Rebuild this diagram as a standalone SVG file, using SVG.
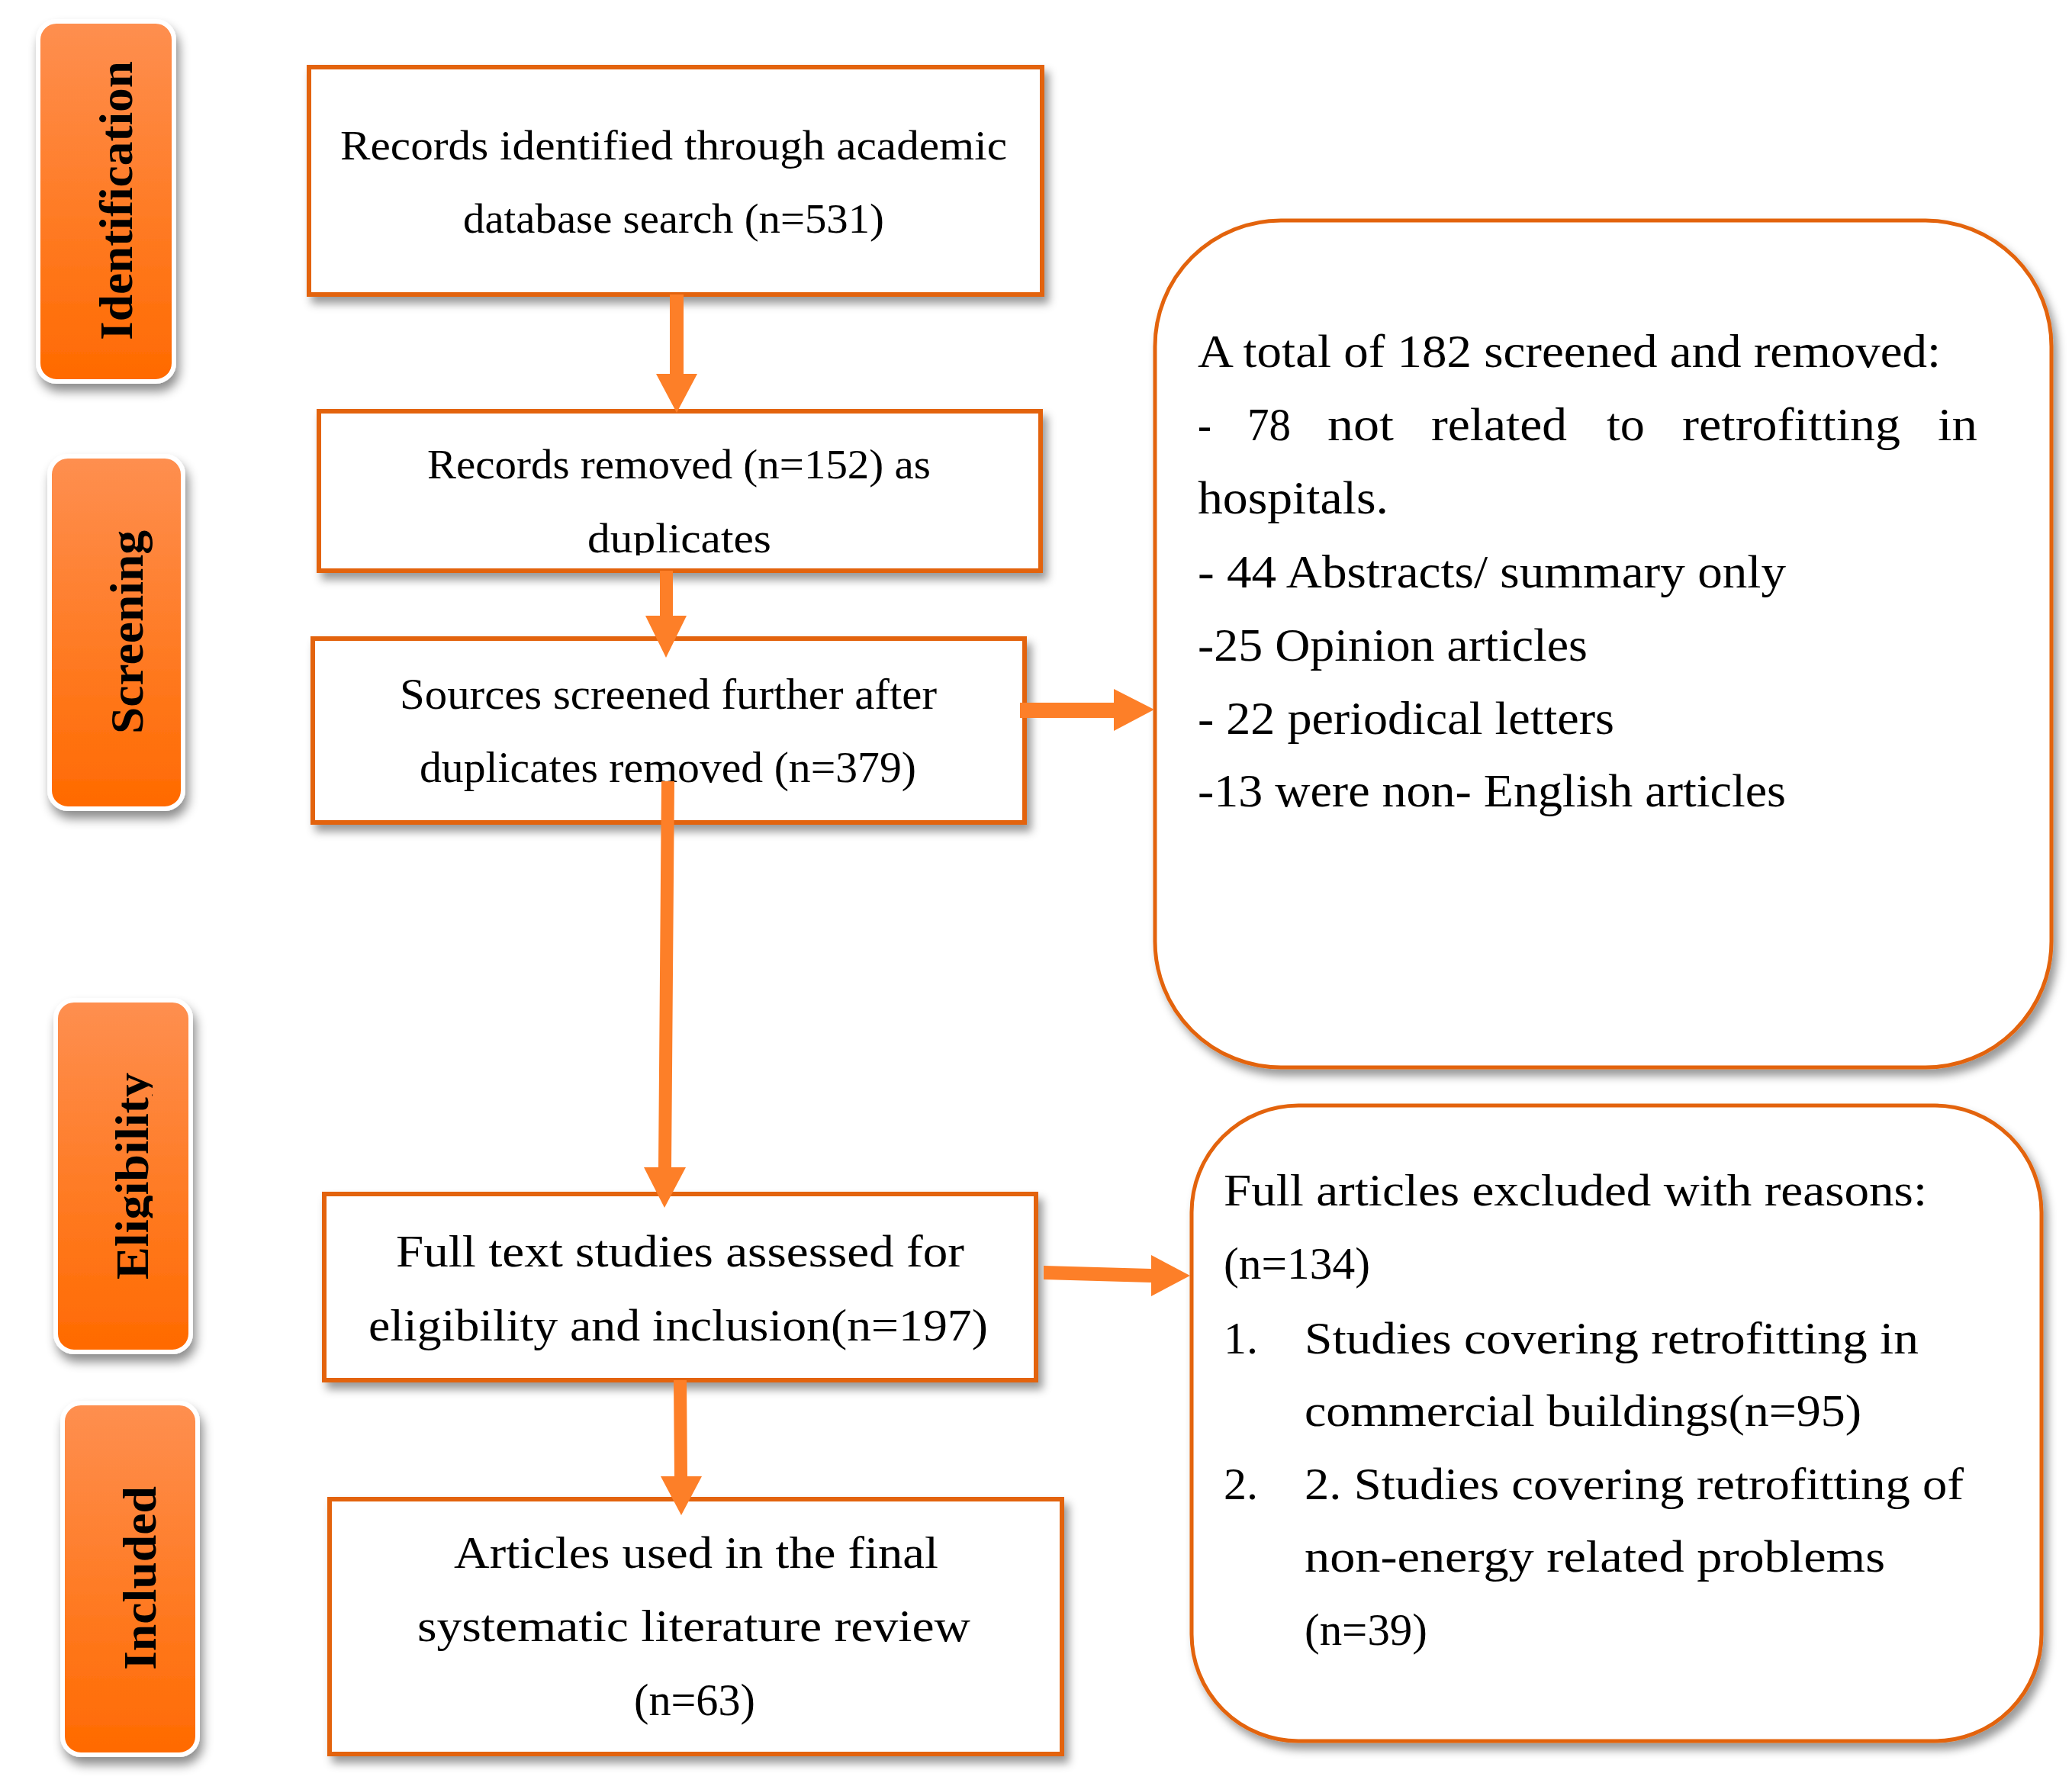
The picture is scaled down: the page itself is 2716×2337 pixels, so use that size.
<svg xmlns="http://www.w3.org/2000/svg" width="2716" height="2337" viewBox="0 0 2716 2337">
<defs>
<linearGradient id="lab" x1="0" y1="0" x2="0" y2="1">
<stop offset="0" stop-color="#FE8F50"/>
<stop offset="1" stop-color="#FF6A00"/>
</linearGradient>
<filter id="sh" x="-10%" y="-10%" width="125%" height="125%">
<feDropShadow dx="6" dy="9" stdDeviation="6" flood-color="#000" flood-opacity="0.4"/>
</filter>
<filter id="shl" x="-20%" y="-10%" width="150%" height="125%">
<feDropShadow dx="4" dy="10" stdDeviation="7" flood-color="#000" flood-opacity="0.45"/>
</filter>
<clipPath id="clipDup"><rect x="420" y="540" width="940" height="188"/></clipPath>
<clipPath id="clipElig"><rect x="-200" y="-80" width="400" height="86"/></clipPath>
</defs>
<style>
.lab{fill:url(#lab);stroke:#fff;stroke-width:6;filter:url(#shl)}
.lt{font-family:"Liberation Serif",serif;font-weight:bold;font-size:62px;fill:#000}
.box{fill:#fff;stroke:#E3640A;stroke-width:6;filter:url(#sh)}
.rbox{fill:#fff;stroke:#E3640A;stroke-width:5;filter:url(#sh)}
.t{font-family:"Liberation Serif",serif;fill:#000}
.s54{font-size:54px}.s56{font-size:56px}.s60{font-size:60px}.s62{font-size:62px}
.arr{fill:#FD7F28;stroke:none}
</style>
<rect width="2716" height="2337" fill="#fff"/>

<g id="label-identification">
<rect class="lab" x="50" y="28" width="178" height="472" rx="24"/>
<g transform="translate(173,263) rotate(-90)"><text class="lt" x="-183" y="0" textLength="366" lengthAdjust="spacingAndGlyphs">Identification</text></g>
</g>
<g id="label-screening">
<rect class="lab" x="65" y="598" width="175" height="462" rx="24"/>
<g transform="translate(187,828) rotate(-90)"><text class="lt" x="-134" y="0" textLength="267" lengthAdjust="spacingAndGlyphs">Screening</text></g>
</g>
<g id="label-eligibility">
<rect class="lab" x="73" y="1311" width="177" height="461" rx="24"/>
<g transform="translate(194,1541) rotate(-90)"><text class="lt" x="-136" y="0" textLength="271" lengthAdjust="spacingAndGlyphs" clip-path="url(#clipElig)">Eligibility</text></g>
</g>
<g id="label-included">
<rect class="lab" x="82" y="1839" width="177" height="461" rx="24"/>
<g transform="translate(204,2069) rotate(-90)"><text class="lt" x="-120" y="0" textLength="241" lengthAdjust="spacingAndGlyphs">Included</text></g>
</g>

<g id="box-identified">
<rect class="box" x="405" y="88" width="961" height="298"/>
<text class="t s54" x="446" y="209" textLength="874" lengthAdjust="spacingAndGlyphs">Records identified through academic</text>
<text class="t s54" x="607" y="305" textLength="552" lengthAdjust="spacingAndGlyphs">database search (n=531)</text>
</g>
<g id="box-removed">
<rect class="box" x="418" y="539" width="946" height="209"/>
<text class="t s54" x="560" y="627" textLength="660" lengthAdjust="spacingAndGlyphs">Records removed (n=152) as</text>
<text class="t s54" x="770" y="724" textLength="241" lengthAdjust="spacingAndGlyphs" clip-path="url(#clipDup)">duplicates</text>
</g>
<g id="box-screened">
<rect class="box" x="410" y="837" width="933" height="241"/>
<text class="t s56" x="524" y="929" textLength="704" lengthAdjust="spacingAndGlyphs">Sources screened further after</text>
<text class="t s56" x="550" y="1025" textLength="651" lengthAdjust="spacingAndGlyphs">duplicates removed (n=379)</text>
</g>
<g id="box-fulltext">
<rect class="box" x="425" y="1565" width="933" height="244"/>
<text class="t s60" x="519" y="1660" textLength="745" lengthAdjust="spacingAndGlyphs">Full text studies assessed for</text>
<text class="t s60" x="483" y="1757" textLength="812" lengthAdjust="spacingAndGlyphs">eligibility and inclusion(n=197)</text>
</g>
<g id="box-included">
<rect class="box" x="432" y="1965" width="960" height="334"/>
<text class="t s60" x="595" y="2055" textLength="635" lengthAdjust="spacingAndGlyphs">Articles used in the final</text>
<text class="t s60" x="547" y="2151" textLength="725" lengthAdjust="spacingAndGlyphs">systematic literature review</text>
<text class="t s60" x="831" y="2248" textLength="159" lengthAdjust="spacingAndGlyphs">(n=63)</text>
</g>

<g id="box-removed-182">
<rect class="rbox" x="1514" y="289" width="1175" height="1110" rx="165"/>
<text class="t s62" x="1570" y="481" textLength="974" lengthAdjust="spacingAndGlyphs">A total of 182 screened and removed:</text>
<text class="t s62" x="1570" y="577" textLength="18" lengthAdjust="spacingAndGlyphs">-</text>
<text class="t s62" x="1635" y="577" textLength="57" lengthAdjust="spacingAndGlyphs">78</text>
<text class="t s62" x="1740" y="577" textLength="87" lengthAdjust="spacingAndGlyphs">not</text>
<text class="t s62" x="1876" y="577" textLength="178" lengthAdjust="spacingAndGlyphs">related</text>
<text class="t s62" x="2106" y="577" textLength="50" lengthAdjust="spacingAndGlyphs">to</text>
<text class="t s62" x="2205" y="577" textLength="286" lengthAdjust="spacingAndGlyphs">retrofitting</text>
<text class="t s62" x="2540" y="577" textLength="52" lengthAdjust="spacingAndGlyphs">in</text>
<text class="t s62" x="1570" y="673" textLength="250" lengthAdjust="spacingAndGlyphs">hospitals.</text>
<text class="t s62" x="1570" y="770" textLength="771" lengthAdjust="spacingAndGlyphs">- 44 Abstracts/ summary only</text>
<text class="t s62" x="1570" y="866" textLength="511" lengthAdjust="spacingAndGlyphs">-25 Opinion articles</text>
<text class="t s62" x="1570" y="962" textLength="546" lengthAdjust="spacingAndGlyphs">- 22 periodical letters</text>
<text class="t s62" x="1570" y="1057" textLength="771" lengthAdjust="spacingAndGlyphs">-13 were non- English articles</text>
</g>
<g id="box-excluded-134">
<rect class="rbox" x="1562" y="1449" width="1114" height="833" rx="140"/>
<text class="t s60" x="1604" y="1580" textLength="922" lengthAdjust="spacingAndGlyphs">Full articles excluded with reasons:</text>
<text class="t s60" x="1604" y="1676" textLength="192" lengthAdjust="spacingAndGlyphs">(n=134)</text>
<text class="t s60" x="1604" y="1774">1.</text>
<text class="t s60" x="1710" y="1774" textLength="805" lengthAdjust="spacingAndGlyphs">Studies covering retrofitting in</text>
<text class="t s60" x="1710" y="1869" textLength="730" lengthAdjust="spacingAndGlyphs">commercial buildings(n=95)</text>
<text class="t s60" x="1604" y="1965">2.</text>
<text class="t s60" x="1710" y="1965" textLength="864" lengthAdjust="spacingAndGlyphs">2. Studies covering retrofitting of</text>
<text class="t s60" x="1710" y="2060" textLength="761" lengthAdjust="spacingAndGlyphs">non-energy related problems</text>
<text class="t s60" x="1710" y="2156" textLength="161" lengthAdjust="spacingAndGlyphs">(n=39)</text>
</g>

<g id="connectors">
<polygon class="arr" points="878,386 896,386 896,490 914,490 887,541 860,490 878,490"/>
<polygon class="arr" points="865,748 882,748 882,807 900,807 873,862 846,807 865,807"/>
<polygon class="arr" points="1337,921 1460,921 1460,903 1513,930 1460,958 1460,941 1337,941"/>
<polygon class="arr" points="867,1024 884,1024 880,1530 899,1530 871,1583 844,1530 863,1530"/>
<polygon class="arr" points="883,1809 900,1809 901,1935 920,1935 893,1986 866,1935 884,1935"/>
<polygon class="arr" points="1368,1659 1509,1663 1509,1645 1560,1672 1509,1699 1509,1681 1368,1677"/>
</g>
</svg>
